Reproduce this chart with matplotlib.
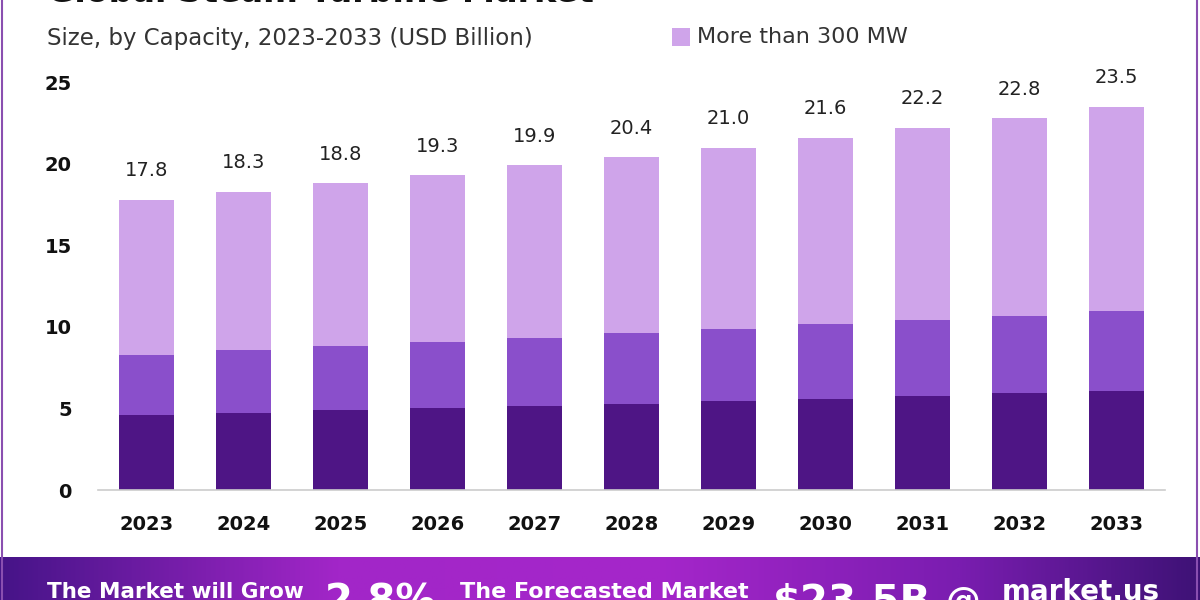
import numpy as np
import matplotlib
matplotlib.use("Agg")
import matplotlib.pyplot as plt
from matplotlib.patches import Rectangle

years = ["2023", "2024", "2025", "2026", "2027", "2028", "2029", "2030", "2031", "2032", "2033"]
totals = [17.8, 18.3, 18.8, 19.3, 19.9, 20.4, 21.0, 21.6, 22.2, 22.8, 23.5]
less_100 = [4.6, 4.7, 4.9, 5.0, 5.15, 5.3, 5.45, 5.6, 5.75, 5.95, 6.05]
mw_100_300 = [3.7, 3.9, 3.95, 4.05, 4.2, 4.3, 4.45, 4.55, 4.7, 4.75, 4.9]
more_300 = [t - a - b for t, a, b in zip(totals, less_100, mw_100_300)]
yticks = [0, 5, 10, 15, 20, 25]

c_top = "#CFA4EA"
c_mid = "#8A4FCB"
c_bot = "#4E1585"
FONT = "DejaVu Sans"

fig = plt.figure(figsize=(12, 6), dpi=100)
fig.patch.set_facecolor("white")

ax = fig.add_axes([98/1200, 1-490/600, (1165-98)/1200, (490-66)/600])
x = np.arange(len(years))
w = 0.57
ax.bar(x, less_100, w, color=c_bot, zorder=2)
ax.bar(x, mw_100_300, w, bottom=less_100, color=c_mid, zorder=2)
b3 = np.array(less_100) + np.array(mw_100_300)
ax.bar(x, more_300, w, bottom=b3, color=c_top, zorder=2)
for xi, t in zip(x, totals):
    ax.text(xi, t + 1.2, f"{t:.1f}", ha="center", va="bottom", fontsize=14,
            family=FONT, color="#222222")
ax.set_xlim(-0.5, len(years) - 0.5)
ax.set_ylim(0, 26)
ax.set_xticks(x)
ax.set_xticklabels(years, fontsize=14, fontweight="bold", family=FONT, color="#111111")
ax.set_yticks(yticks)
ax.set_yticklabels([str(v) for v in yticks], fontsize=14, fontweight="bold", family=FONT, color="#111111")
ax.tick_params(axis="both", length=0)
ax.tick_params(axis="x", pad=18)
ax.tick_params(axis="y", pad=19)
for s in ["top", "right", "left"]:
    ax.spines[s].set_visible(False)
ax.spines["bottom"].set_color("#cccccc")
ax.spines["bottom"].set_linewidth(1.2)
ax.set_facecolor("white")

# title (cut off at top, as in the reference)
fig.text(47/1200, 1-2/600, "Global Steam Turbine Market", fontsize=24, fontweight="bold",
         family=FONT, color="#111111", ha="left", va="baseline")
fig.text(47/1200, 1-38/600, "Size, by Capacity, 2023-2033 (USD Billion)", fontsize=16.5,
         family=FONT, color="#333333", ha="left", va="center")
# legend
fig.patches.append(Rectangle((672/1200, 1-46/600), 18/1200, 18/600, transform=fig.transFigure,
                             facecolor=c_top, edgecolor="none"))
fig.text(697/1200, 1-37/600, "More than 300 MW", fontsize=16, family=FONT,
         color="#333333", ha="left", va="center")

# frame lines
fig.add_artist(plt.Line2D([2/1200, 2/1200], [0, 1], transform=fig.transFigure, color="#8A4FB0", lw=1.5))
fig.add_artist(plt.Line2D([1197/1200, 1197/1200], [0, 1], transform=fig.transFigure, color="#8A4FB0", lw=1.5))

# bottom banner with gradient
bax = fig.add_axes([0, 0, 1, 43/600])
grad = np.linspace(0, 1, 512)
cols = matplotlib.colors.LinearSegmentedColormap.from_list(
    "g", [(0, "#461488"), (0.28, "#A226C8"), (0.55, "#A526CA"), (0.8, "#7A1DB0"), (1, "#3E1276")])
bax.imshow(grad[None, :], aspect="auto", cmap=cols, extent=[0, 1, 0, 1])
bax.set_xlim(0, 1)
bax.set_ylim(0, 1)
bax.axis("off")
fig.text(47/1200, 1-598/600, "The Market will Grow", fontsize=15.5, fontweight="bold",
         family=FONT, color="white", ha="left", va="baseline")
fig.text(325/1200, 1-614/600, "2.8%", fontsize=29, fontweight="bold",
         family=FONT, color="white", ha="left", va="baseline")
fig.text(460/1200, 1-598/600, "The Forecasted Market", fontsize=16, fontweight="bold",
         family=FONT, color="white", ha="left", va="baseline")
fig.text(773/1200, 1-614/600, "$23.5B", fontsize=29, fontweight="bold",
         family=FONT, color="white", ha="left", va="baseline")
fig.text(946/1200, 1-612/600, "@", fontsize=25, fontweight="bold",
         family=FONT, color="white", ha="left", va="baseline")
fig.text(1002/1200, 1-600/600, "market.us", fontsize=20, fontweight="bold",
         family=FONT, color="white", ha="left", va="baseline")

fig.savefig("out.png", dpi=100)
